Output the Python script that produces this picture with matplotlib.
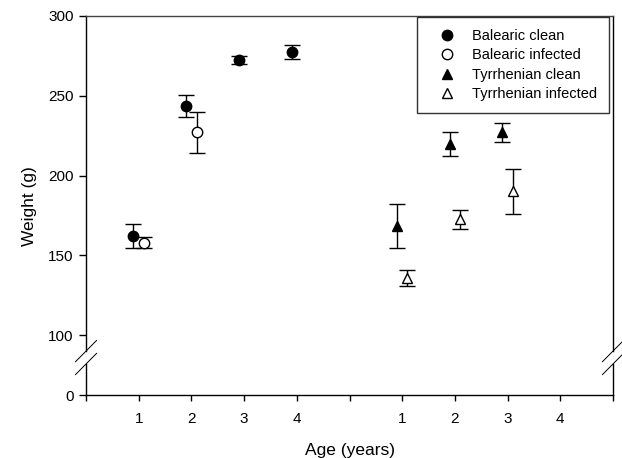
import numpy as np
import matplotlib
matplotlib.use("Agg")
import matplotlib.pyplot as plt

plt.rcParams["font.family"] = ["Liberation Sans", "DejaVu Sans"]

# -----------------------------
# Data
# -----------------------------
bal_ages = [1, 2, 3, 4]
bal_clean = [162, 243.5, 272.5, 277.5]
bal_clean_err = [7.7, 6.7, 2.7, 4.6]

bal_inf_ages = [1, 2]
bal_inf = [158, 227]
bal_inf_err = [3.3, 12.8]

tyr_ages = [1, 2, 3]
tyr_clean = [168.5, 219.5, 227]
tyr_clean_err = [13.8, 7.5, 5.8]
tyr_inf = [135.5, 172.5, 190]
tyr_inf_err = [5, 6, 14]

series_names = ["Balearic clean", "Balearic infected",
                "Tyrrhenian clean", "Tyrrhenian infected"]
tick_labels = ["", "1", "2", "3", "4", "", "1", "2", "3", "4", ""]
tyr_shift = 5
dodge = 0.1

# -----------------------------
# Broken y scale: 0-100 squeezed
# -----------------------------
K = 0.379


def fwd(v):
    v = np.asarray(v, dtype=float)
    return np.where(v >= 100, v, 100 - (100 - v) * K)


def inv(d):
    d = np.asarray(d, dtype=float)
    return np.where(d >= 100, d, 100 - (100 - d) / K)


fig = plt.figure(figsize=(6.22, 4.58), dpi=100)
ax = fig.add_axes([0.1383, 0.1365, 0.8472, 0.8286])
ax.set_yscale("function", functions=(fwd, inv))

eb = dict(color="black", elinewidth=1, capsize=5.5, capthick=1,
          linestyle="none", markersize=7.5, markeredgewidth=1)

handles = []
x = np.array(bal_ages) - dodge
c = ax.errorbar(x, bal_clean, yerr=bal_clean_err, marker="o",
                markerfacecolor="black", markeredgecolor="black", **eb)
handles.append(c[0])
x = np.array(bal_inf_ages) + dodge
c = ax.errorbar(x, bal_inf, yerr=bal_inf_err, marker="o",
                markerfacecolor="white", markeredgecolor="black", **eb)
handles.append(c[0])
x = np.array(tyr_ages) + tyr_shift - dodge
c = ax.errorbar(x, tyr_clean, yerr=tyr_clean_err, marker="^",
                markerfacecolor="black", markeredgecolor="black", **eb)
handles.append(c[0])
x = np.array(tyr_ages) + tyr_shift + dodge
c = ax.errorbar(x, tyr_inf, yerr=tyr_inf_err, marker="^",
                markerfacecolor="white", markeredgecolor="black", **eb)
handles.append(c[0])

ax.set_xlim(0, 10)
ax.set_ylim(0, 300)
ax.set_xticks(range(11))
ax.set_xticklabels(tick_labels)
ax.set_yticks([0, 100, 150, 200, 250, 300])
ax.set_yticklabels(["0", "100", "150", "200", "250", "300"])
ax.yaxis.set_minor_locator(matplotlib.ticker.NullLocator())
ax.tick_params(axis="both", direction="out", length=5, width=1,
               labelsize=11, colors="black", pad=4)
ax.tick_params(axis="x", length=4, pad=8)

ax.set_xlabel("Age (years)", fontsize=12.5, labelpad=12)
ax.set_ylabel("Weight (g)", fontsize=12.5, labelpad=8)

# -----------------------------
# Spines with break marks
# -----------------------------
ax.spines["left"].set_visible(False)
ax.spines["right"].set_visible(False)
ax.spines["top"].set_color("#444444")
ax.spines["top"].set_linewidth(1)
ax.spines["bottom"].set_linewidth(1)

gap_lo, gap_hi = 0.083, 0.117
for xs in (0, 1):
    ax.plot([xs, xs], [0, gap_lo], transform=ax.transAxes, color="black",
            lw=1, clip_on=False)
    ax.plot([xs, xs], [gap_hi, 1], transform=ax.transAxes, color="black",
            lw=1, clip_on=False)
    dx, dy = 0.020, 0.028
    for yc in (gap_lo, gap_hi):
        ax.plot([xs - dx, xs + dx], [yc - dy, yc + dy], transform=ax.transAxes,
                color="black", lw=0.7, clip_on=False)

leg = ax.legend(handles, series_names, loc="upper right",
                bbox_to_anchor=(0.993, 0.998), borderaxespad=0,
                fontsize=10.5, frameon=True, fancybox=False,
                handletextpad=0.5, labelspacing=0.36, borderpad=0.85,
                handlelength=2.4)
leg.get_frame().set_edgecolor("black")
leg.get_frame().set_linewidth(1)

fig.savefig("out.png", dpi=100)
